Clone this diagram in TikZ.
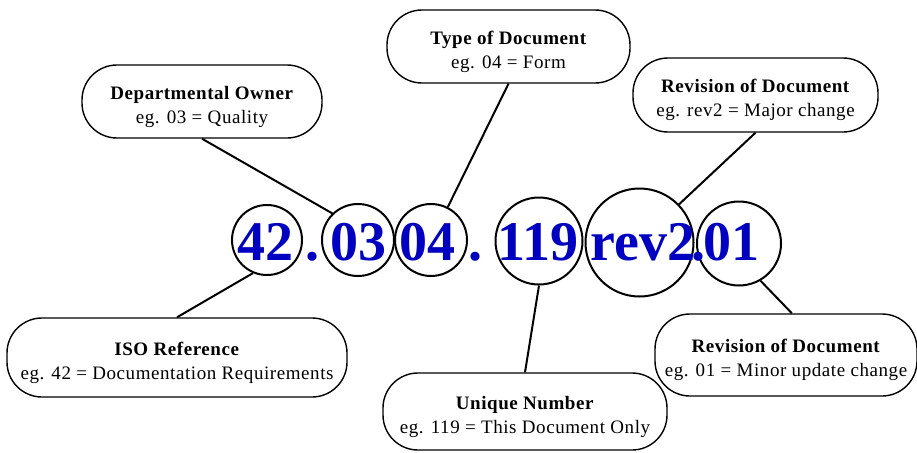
\documentclass[tikz,border=0pt]{standalone}
\usepackage{fontspec}
\setmainfont{Liberation Serif}
\newfontfamily\boxfont{Liberation Serif}[LetterSpace=3]
\definecolor{numblue}{RGB}{0,0,192}
\begin{document}
\begin{tikzpicture}[x=1pt,y=-1pt,
  box/.style={draw=black, line width=1.4pt, rounded corners=35pt, inner sep=0pt},
  lbl/.style={font=\boxfont\fontsize{19}{24}\selectfont, align=center, inner sep=0pt},
  ring/.style={draw=black, line width=2pt, circle, inner sep=0pt},
  big/.style={font=\bfseries\fontsize{56}{60}\selectfont, text=numblue, inner sep=0pt, anchor=base},
  link/.style={draw=black, line width=2pt}]
\useasboundingbox (0,0) rectangle (917,452);

% circles
\node[ring, minimum size=70pt] (c42) at (267,240) {};
\node[ring, minimum size=72pt] (c03) at (358,240) {};
\node[ring, minimum size=72pt] (c04) at (431,240) {};
\node[ring, minimum size=87pt] (c119) at (539,241) {};
\node[ring, minimum size=108pt] (crev) at (639.5,242.5) {};
\node[ring, minimum size=84pt] (c01) at (739,243.5) {};

% number text
\node[big] (t42) at (265,260) {42};
\node[big] (d1) at (312,260) {.};
\node[big] (t03) at (358.5,260) {03};
\node[big] (t04) at (427.5,260) {04};
\node[big] (d2) at (475,260) {.};
\node[big] (t119) at (538,260) {119};
\node[big] (trev) at (643,260) {rev2};
\node[big] (d3) at (698.5,260) {.};
\node[big] (t01) at (731,260) {01};

% boxes
\node[box, minimum width=240pt, minimum height=73pt] (dept) at (202,101.5) {};
\node[box, minimum width=243pt, minimum height=73pt] (type) at (508.5,46.5) {};
\node[box, minimum width=245pt, minimum height=74pt] (rev2) at (755.5,95) {};
\node[box, minimum width=340pt, minimum height=79pt] (iso) at (177,357.5) {};
\node[box, minimum width=284pt, minimum height=77pt] (uniq) at (525,411.5) {};
\node[box, minimum width=262pt, minimum height=82pt] (rev01) at (786,355) {};

% box texts
\node[lbl] (deptT) at ([yshift=-5pt]dept.center) {\textbf{Departmental Owner}\\eg. 03 = Quality};
\node[lbl] (typeT) at ([yshift=-5pt]type.center) {\textbf{Type of Document}\\eg. 04 = Form};
\node[lbl] (rev2T) at ([yshift=-5pt]rev2.center) {\textbf{Revision of Document}\\eg. rev2 = Major change};
\node[lbl] (isoT) at ([yshift=-5pt]iso.center) {\textbf{ISO Reference}\\eg. 42 = Documentation Requirements};
\node[lbl] (uniqT) at ([yshift=-5pt]uniq.center) {\textbf{Unique Number}\\eg. 119 = This Document Only};
\node[lbl] (rev01T) at ([yshift=-5pt]rev01.center) {\textbf{Revision of Document}\\eg. 01 = Minor update change};

% connectors
\draw[link] (dept.south) -- (c03.134);
\draw[link] (type.south) -- (c04.63);
\draw[link] (rev2.south) -- (crev.44);
\draw[link] (iso.north) -- (c42.-113);
\draw[link] (uniq.north) -- (c119.-90);
\draw[link] (rev01.82) -- (c01.-60);
\end{tikzpicture}
\end{document}
